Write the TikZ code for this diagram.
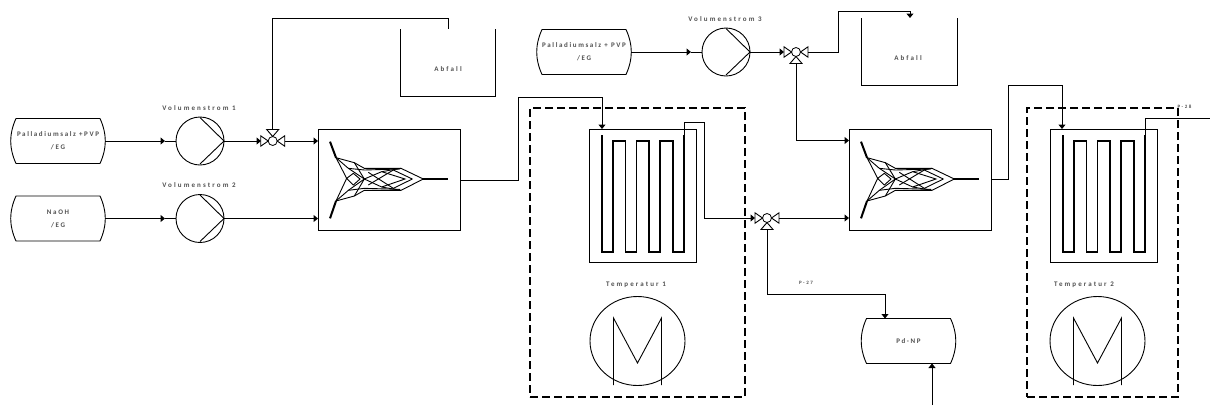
\documentclass[tikz,border=0pt]{standalone}
\usepackage{fontspec}
\setmainfont{Carlito}
\newfontfamily\lblfont[LetterSpace=30]{Carlito}
\newfontfamily\tankfont[LetterSpace=23]{Carlito}
\usetikzlibrary{arrows.meta,shapes.geometric}
\definecolor{lbl}{HTML}{505050}
\tikzset{
  pipe/.style={draw=black,line width=1pt},
  pipearrow/.style={pipe,-{Triangle[length=4.5pt,width=7pt]}},
  tanknode/.style={inner sep=0pt,outer sep=0pt,minimum width=94pt,minimum height=45pt,align=center,text=lbl,font=\tankfont\bfseries\fontsize{7pt}{13pt}\selectfont},
  pumpnode/.style={circle,draw=black,line width=0.9pt,inner sep=0pt,outer sep=0pt,minimum size=48pt},
  valvenode/.style={circle,draw=black,line width=0.8pt,inner sep=0pt,outer sep=0pt,minimum size=9pt},
  boxnode/.style={rectangle,draw=black,line width=1pt,inner sep=0pt,outer sep=0pt},
  dashbox/.style={rectangle,draw=black,line width=2pt,dash pattern=on 8pt off 4pt,inner sep=0pt,outer sep=0pt},
  heater/.style={ellipse,draw=black,line width=0.9pt,inner sep=0pt,outer sep=0pt,minimum width=95pt,minimum height=89pt},
  lab/.style={inner sep=0pt,text=lbl,font=\lblfont\bfseries\fontsize{7pt}{8pt}\selectfont},
  tinylab/.style={inner sep=0pt,text=lbl,font=\lblfont\bfseries\fontsize{5pt}{6pt}\selectfont},
  glyph/.style={draw=black,line width=0.9pt},
  thickglyph/.style={draw=black,line width=2pt},
  serp/.style={draw=black,line width=1.7pt,line join=miter}
}
\newcommand{\tankshape}[1]{\draw[line width=0.9pt,shift={(#1.center)}]
  (-42,-22.5) -- (42,-22.5) .. controls (45.5,-15) and (47.3,-7) .. (47.3,0) .. controls (47.3,7) and (45.5,15) .. (42,22.5)
  -- (-42,22.5) .. controls (-45.5,15) and (-47.3,7) .. (-47.3,0) .. controls (-47.3,-7) and (-45.5,-15) .. (-42,-22.5) -- cycle;}
\newcommand{\pumpshape}[1]{\draw[glyph,shift={(#1.center)}] (0,-23.5) -- (24,0) -- (0,23);}
\newcommand{\valveshape}[2]{\begin{scope}[shift={(#1.center)}]
  \draw[glyph,line join=miter] (-4.5,0) -- (-12,-5.2) -- (-12,5.2) -- cycle;
  \draw[glyph,line join=miter] (4.5,0) -- (12,-5.2) -- (12,5.2) -- cycle;
  \draw[glyph,line join=miter] (0,#2*4.5) -- (-6,#2*11.5) -- (6,#2*11.5) -- cycle;
  \end{scope}}
\newcommand{\mixershape}[1]{\begin{scope}[shift={(#1.center)},x=0.3333pt,y=-0.3333pt,shift={(-192,-133.5)}]
  \draw[thickglyph] (15,20) -- (33,68);
  \draw[thickglyph] (33,198) -- (15,250);
  \draw[thickglyph] (295,132) -- (369,132);
  \draw[glyph] (33,68) -- (88,83) -- (118,100) -- (228,100) -- (295,132) -- (228,166) -- (118,166) -- (88,183) -- (33,198);
  \draw[glyph] (33,68) -- (65,130) -- (33,198);
  \draw[glyph] (33,68) -- (70,100) -- (118,132) -- (70,166) -- (33,198);
  \draw[glyph] (70,100) -- (118,105) -- (225,102);
  \draw[glyph] (70,166) -- (118,160) -- (225,163);
  \draw[glyph] (88,83) -- (118,132) -- (88,183);
  \draw[glyph] (65,130) -- (85,115) -- (105,132) -- (85,150) -- cycle;
  \draw[glyph] (118,132) -- (170,110) -- (228,100);
  \draw[glyph] (118,132) -- (170,156) -- (228,166);
  \draw[glyph] (170,110) -- (240,132) -- (170,156);
  \draw[glyph] (130,150) -- (205,105) -- (262,132);
  \draw[glyph] (130,112) -- (205,160) -- (262,132);
  \end{scope}}
\newcommand{\serpshape}[1]{\begin{scope}[shift={(#1.north west)}]
  \draw[serp] (13,6) -- (13,123) -- (24,123) -- (24,12) -- (36.5,12) -- (36.5,123) -- (47.5,123) -- (47.5,12) -- (60,12) -- (60,123) -- (71,123) -- (71,12) -- (84,12) -- (84,123) -- (95,123) -- (95,6);
  \end{scope}}
\newcommand{\heatershape}[1]{\draw[glyph,line join=miter,shift={(#1.center)}] (-24,44) -- (-24,-23) -- (0,22) -- (24,-23) -- (24,44);}
\begin{document}
\begin{tikzpicture}[x=1pt,y=-1pt]
\useasboundingbox (0,0) rectangle (1210,405);
% dashed enclosures
\node[dashbox,minimum width=215pt,minimum height=289pt] (enc1) at (637.5,252.5) {};
\node[dashbox,minimum width=151pt,minimum height=289pt] (enc2) at (1102.5,252.5) {};
% tanks
\node[tanknode] (t1) at (58,141) {Palladiumsalz +PVP\\/EG}; \tankshape{t1}
\node[tanknode] (t2) at (58,218.5) {NaOH\\/EG}; \tankshape{t2}
\node[tanknode] (t3) at (584,52) {Palladiumsalz + PVP\\/EG}; \tankshape{t3}
\node[tanknode] (t4) at (908.5,341) {Pd-NP}; \tankshape{t4}
% pumps
\node[pumpnode] (p1) at (200,141) {}; \pumpshape{p1}
\node[pumpnode] (p2) at (200,218.5) {}; \pumpshape{p2}
\node[pumpnode] (p3) at (726,52) {}; \pumpshape{p3}
\node[lab] (lp1) at (199,108) {Volumenstrom 1};
\node[lab] (lp2) at (199,185) {Volumenstrom 2};
\node[lab] (lp3) at (725,19) {Volumenstrom 3};
% valves
\node[valvenode] (v1) at (272.7,141) {}; \valveshape{v1}{-1}
\node[valvenode] (v2) at (767,218) {}; \valveshape{v2}{1}
\node[valvenode] (v3) at (796,52) {}; \valveshape{v3}{1}
\coordinate (v1w) at (261,141); \coordinate (v1e) at (285,141); \coordinate (v1n) at (272.7,129.5);
\coordinate (v2w) at (755,218); \coordinate (v2e) at (779,218); \coordinate (v2s) at (767,229.5);
\coordinate (v3w) at (784,52); \coordinate (v3e) at (808,52); \coordinate (v3s) at (796,63.5);
% mixers
\node[boxnode,minimum width=142pt,minimum height=101pt] (m1) at (389,179.5) {}; \mixershape{m1}
\node[boxnode,minimum width=142pt,minimum height=101pt] (m2) at (920,179.5) {}; \mixershape{m2}
% reactors
\node[boxnode,minimum width=107pt,minimum height=133.5pt] (r1) at (642.5,195.75) {}; \serpshape{r1}
\node[boxnode,minimum width=107pt,minimum height=133.5pt] (r2) at (1103.5,195.75) {}; \serpshape{r2}
% heaters
\node[heater] (h1) at (637.5,341) {}; \heatershape{h1}
\node[heater] (h2) at (1097.5,341) {}; \heatershape{h2}
\node[lab] (lh1) at (636,285) {Temperatur 1};
\node[lab] (lh2) at (1084,285) {Temperatur 2};
% waste tanks
\coordinate (a1tl) at (400.5,29); \coordinate (a1bl) at (400.5,96); \coordinate (a1br) at (495.5,96); \coordinate (a1tr) at (495.5,29);
\draw[line width=1pt] (a1tl) -- (a1bl) -- (a1br) -- (a1tr);
\node[lab] (la1) at (448,69) {Abfall};
\coordinate (a2tl) at (861.5,18); \coordinate (a2bl) at (861.5,85); \coordinate (a2br) at (957.5,85); \coordinate (a2tr) at (957.5,18);
\draw[line width=1pt] (a2tl) -- (a2bl) -- (a2br) -- (a2tr);
\node[lab] (la2) at (908,58) {Abfall};
% small labels
\node[tinylab] (l27) at (806,283) {P-27};
\node[tinylab] (l28) at (1184.5,107) {P-28};
% connectors
\coordinate (ar1) at (165,141); \coordinate (ar2) at (165,218.5); \coordinate (ar3) at (691,52);
\draw[pipearrow] (t1.east) -- (ar1); \draw[pipe] (ar1) -- (p1.west);
\draw[pipearrow] (t2.east) -- (ar2); \draw[pipe] (ar2) -- (p2.west);
\draw[pipearrow] (t3.east) -- (ar3); \draw[pipe] (ar3) -- (p3.west);
\draw[pipearrow] (p1.east) -- (v1w);
\draw[pipearrow] (v1e) -- (m1.west |- v1e);
\draw[pipearrow] (p2.east) -- (m1.west |- p2.east);
\coordinate (k1) at (272.7,18); \coordinate (k2) at (448,18); \coordinate (k3) at (448,29);
\draw[pipe] (v1n) -- (k1) -- (k2) -- (k3);
\coordinate (k4) at (518,180); \coordinate (k5) at (518,97); \coordinate (k6) at (602,97);
\draw[pipearrow] (k4 -| m1.east) -- (k4) -- (k5) -- (k6) -- (k6 |- r1.north);
\coordinate (k7) at (684,135); \coordinate (k8) at (684,122); \coordinate (k9) at (704,122); \coordinate (k10) at (704,218);
\draw[pipearrow] (k7) -- (k8) -- (k9) -- (k10) -- (v2w);
\draw[pipearrow] (v2e) -- (m2.west |- v2e);
\coordinate (k11) at (767,294.5); \coordinate (k12) at (885,294.5);
\draw[pipearrow] (v2s) -- (k11) -- (k12) -- (k12 |- t4.north);
\coordinate (k13) at (932,405);
\draw[pipearrow] (k13) -- (k13 |- t4.south);
\draw[pipearrow] (p3.east) -- (v3w);
\coordinate (k14) at (838,52); \coordinate (k15) at (838,11); \coordinate (k16) at (910,11); \coordinate (k17) at (910,18);
\draw[pipearrow] (v3e) -- (k14) -- (k15) -- (k16) -- (k17);
\coordinate (k18) at (796,140.5);
\draw[pipearrow] (v3s) -- (k18) -- (k18 -| m2.west);
\coordinate (k19) at (1008,179); \coordinate (k20) at (1008,85); \coordinate (k21) at (1062,85);
\draw[pipearrow] (k19 -| m2.east) -- (k19) -- (k20) -- (k21) -- (k21 |- r2.north);
\coordinate (k22) at (1145,135); \coordinate (k23) at (1145,118); \coordinate (outend) at (1210,118);
\draw[pipe] (k22) -- (k23) -- (outend);
\end{tikzpicture}
\end{document}
